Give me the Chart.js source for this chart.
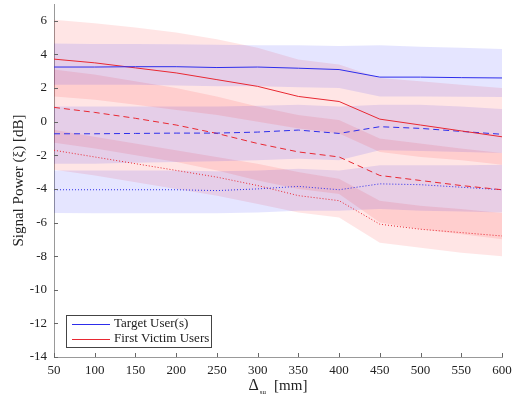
<!DOCTYPE html>
<html>
<head>
<meta charset="utf-8">
<script src="https://cdn.jsdelivr.net/npm/chart.js@4/dist/chart.umd.min.js"></script>
<style>
html,body{margin:0;padding:0;background:#fff;}
#wrap{width:514px;height:398px;}
</style>
</head>
<body>
<div id="wrap"><canvas id="c" width="514" height="398"></canvas></div>
<script>
// ---- data ----
const xs = [50,100,150,200,250,300,350,400,450,500,550,600];
const yTicks = [-14,-12,-10,-8,-6,-4,-2,0,2,4,6];
const legendLabels = ["Target User(s)", "First Victim Users"];
const xTitle = "\u0394";
const xTitleSub = "su";
const xTitleUnit = "[mm]";
const yTitle = "Signal Power (\u03BE) [dB]";

// Target users (blue)
const blueSolid  = [3.25,3.25,3.27,3.27,3.22,3.25,3.18,3.1,2.65,2.65,2.62,2.6];
const blueDashed = [-0.72,-0.72,-0.7,-0.68,-0.68,-0.62,-0.5,-0.7,-0.3,-0.4,-0.58,-0.75];
const blueDotted = [-4.05,-4.05,-4.05,-4.05,-4.1,-4.0,-3.85,-4.05,-3.7,-3.75,-3.9,-4.05];
// First victim users (red)
const redSolid   = [3.72,3.5,3.2,2.9,2.5,2.1,1.5,1.2,0.15,-0.2,-0.55,-0.9];
const redDashed  = [0.85,0.55,0.2,-0.2,-0.7,-1.3,-1.8,-2.1,-3.2,-3.5,-3.8,-4.05];
const redDotted  = [-1.7,-2.1,-2.5,-2.9,-3.3,-3.8,-4.4,-4.7,-6.1,-6.4,-6.6,-6.8];

// spread bands (upper / lower)
const blueSolidHi  = [4.65,4.62,4.62,4.6,4.58,4.55,4.55,4.5,4.55,4.45,4.4,4.33];
const blueSolidLo  = [2.2,2.2,2.2,2.15,2.1,2.1,2.05,2.0,1.5,1.5,1.48,1.47];
const blueDashedHi = [0.9,0.9,0.9,0.9,0.9,0.95,1.0,0.9,1.0,1.0,0.9,0.76];
const blueDashedLo = [-2.5,-2.5,-2.45,-2.4,-2.35,-2.3,-2.2,-2.3,-1.7,-1.75,-1.8,-1.86];
const blueDottedHi = [-2.9,-2.9,-2.9,-2.9,-2.95,-2.9,-2.8,-2.9,-2.6,-2.6,-2.6,-2.56];
const blueDottedLo = [-5.43,-5.45,-5.45,-5.45,-5.45,-5.4,-5.3,-5.3,-5.2,-5.3,-5.35,-5.4];
const redSolidHi   = [6.07,5.85,5.6,5.3,4.9,4.4,3.7,3.4,2.6,2.4,2.2,2.0];
const redSolidLo   = [1.5,1.3,1.0,0.7,0.4,0.0,-0.4,-0.7,-1.8,-2.1,-2.3,-2.56];
const redDashedHi  = [3.1,2.8,2.4,2.0,1.5,0.9,0.4,0.1,-1.0,-1.3,-1.6,-1.86];
const redDashedLo  = [-1.25,-1.6,-2.0,-2.4,-2.9,-3.5,-4.0,-4.3,-6.0,-6.4,-6.7,-7.0];
const redDottedHi  = [-0.48,-0.9,-1.3,-1.7,-2.1,-2.5,-3.0,-3.4,-4.7,-5.0,-5.2,-5.43];
const redDottedLo  = [-2.86,-3.2,-3.6,-4.0,-4.4,-4.9,-5.4,-5.7,-7.2,-7.5,-7.8,-8.0];

// ---- styles ----
const BLUE = 'rgb(45,45,235)';
const RED = 'rgb(232,40,50)';
const BLUE_FILL = 'rgba(0,0,255,0.10)';
const RED_FILL = 'rgba(255,0,0,0.10)';
const SERIF = "'Liberation Serif', 'DejaVu Serif', serif";

const pts = arr => arr.map((v,i)=>({x:xs[i], y:v}));
function band(hi, lo, color){
  return [
    {data: pts(hi), borderWidth:0, pointRadius:0, backgroundColor:color, fill:'+1', tension:0},
    {data: pts(lo), borderWidth:0, pointRadius:0, backgroundColor:color, fill:false, tension:0}
  ];
}
function line(arr, color, dash, w){
  return {data: pts(arr), borderColor: color, borderWidth: w||1, borderDash: dash, pointRadius:0, fill:false, tension:0};
}

const datasets = [
  ...band(blueSolidHi, blueSolidLo, BLUE_FILL),
  ...band(redSolidHi, redSolidLo, RED_FILL),
  ...band(blueDashedHi, blueDashedLo, BLUE_FILL),
  ...band(redDashedHi, redDashedLo, RED_FILL),
  ...band(blueDottedHi, blueDottedLo, BLUE_FILL),
  ...band(redDottedHi, redDottedLo, RED_FILL),
  line(blueSolid, BLUE, []),
  line(redSolid, RED, []),
  line(blueDashed, BLUE, [6,4]),
  line(redDashed, RED, [6,4]),
  line(blueDotted, BLUE, [1,2]),
  line(redDotted, RED, [1,2]),
];

const decor = {
  id:'decor',
  afterDraw(chart){
    const ctx = chart.ctx;
    const xs_ = chart.scales.x, ys_ = chart.scales.y;
    const ca = chart.chartArea;
    ctx.save();
    // inward ticks
    ctx.strokeStyle = '#666';
    ctx.lineWidth = 1;
    xs.forEach(v=>{
      const px = Math.round(xs_.getPixelForValue(v))+0.5;
      ctx.beginPath(); ctx.moveTo(px, ca.bottom); ctx.lineTo(px, ca.bottom-4); ctx.stroke();
    });
    yTicks.forEach(v=>{
      const py = Math.round(ys_.getPixelForValue(v))+0.5;
      ctx.beginPath(); ctx.moveTo(ca.left, py); ctx.lineTo(ca.left+4, py); ctx.stroke();
    });
    // legend box
    const lx = ca.left + 12, ly = ca.bottom - 42, lw = 145, lh = 32;
    ctx.fillStyle = '#fff';
    ctx.fillRect(lx, ly, lw, lh);
    ctx.strokeStyle = '#444';
    ctx.strokeRect(lx+0.5, ly+0.5, lw, lh);
    const cols = [BLUE, RED];
    ctx.font = "13px " + SERIF;
    ctx.textBaseline = 'middle';
    legendLabels.forEach((t,i)=>{
      const yy = ly + 9 + i*14.5;
      ctx.strokeStyle = cols[i];
      ctx.beginPath(); ctx.moveTo(lx+6, Math.round(yy)+0.5); ctx.lineTo(lx+44, Math.round(yy)+0.5); ctx.stroke();
      ctx.fillStyle = '#222';
      ctx.fillText(t, lx+48, yy);
    });
    // x title with subscript
    ctx.fillStyle = '#222';
    ctx.textBaseline = 'alphabetic';
    const cx = (ca.left + ca.right)/2;
    const ty = 392;
    ctx.font = "16px " + SERIF;
    const w1 = ctx.measureText(xTitle).width;
    ctx.font = "7px " + SERIF;
    const w2 = ctx.measureText(xTitleSub).width;
    ctx.font = "15px " + SERIF;
    const w3 = ctx.measureText(xTitleUnit).width;
    const gap = 9;
    const total = w1 + w2 + gap + w3;
    let sx = cx - total/2;
    ctx.font = "16px " + SERIF; ctx.fillText(xTitle, sx, ty-2); sx += w1;
    ctx.font = "7px " + SERIF; ctx.fillText(xTitleSub, sx+1, ty+2); sx += w2 + gap;
    ctx.font = "15px " + SERIF; ctx.fillText(xTitleUnit, sx, ty-2);
    ctx.restore();
  }
};

new Chart(document.getElementById('c'), {
  type:'line',
  data:{datasets},
  options:{
    responsive:false,
    animation:false,
    layout:{padding:{top:4,right:12,left:10,bottom:0}},
    plugins:{legend:{display:false}, tooltip:{enabled:false}, filler:{drawTime:'beforeDatasetsDraw'}},
    scales:{
      x:{
        type:'linear', min:50, max:600,
        afterBuildTicks(s){ s.ticks = xs.map(v=>({value:v})); },
        afterFit(s){ s.height = 41; s.paddingLeft = 0; s.paddingRight = 0; },
        grid:{drawOnChartArea:false, drawTicks:false},
        border:{color:'#999', width:1},
        ticks:{color:'#222', font:{family:SERIF, size:13}, padding:6, maxRotation:0, autoSkip:false},
        title:{display:false}
      },
      y:{
        type:'linear', min:-14, max:7,
        afterBuildTicks(s){ s.ticks = yTicks.map(v=>({value:v})); },
        afterFit(s){ s.width = 44; s.paddingTop = 0; s.paddingBottom = 0; },
        grid:{drawOnChartArea:false, drawTicks:false},
        border:{color:'#999', width:1},
        ticks:{color:'#222', font:{family:SERIF, size:13}, padding:7, autoSkip:false},
        title:{display:true, text:yTitle, color:'#222', font:{family:SERIF, size:15}, padding:{top:0,bottom:2}}
      }
    }
  },
  plugins:[decor]
});
</script>
</body>
</html>
